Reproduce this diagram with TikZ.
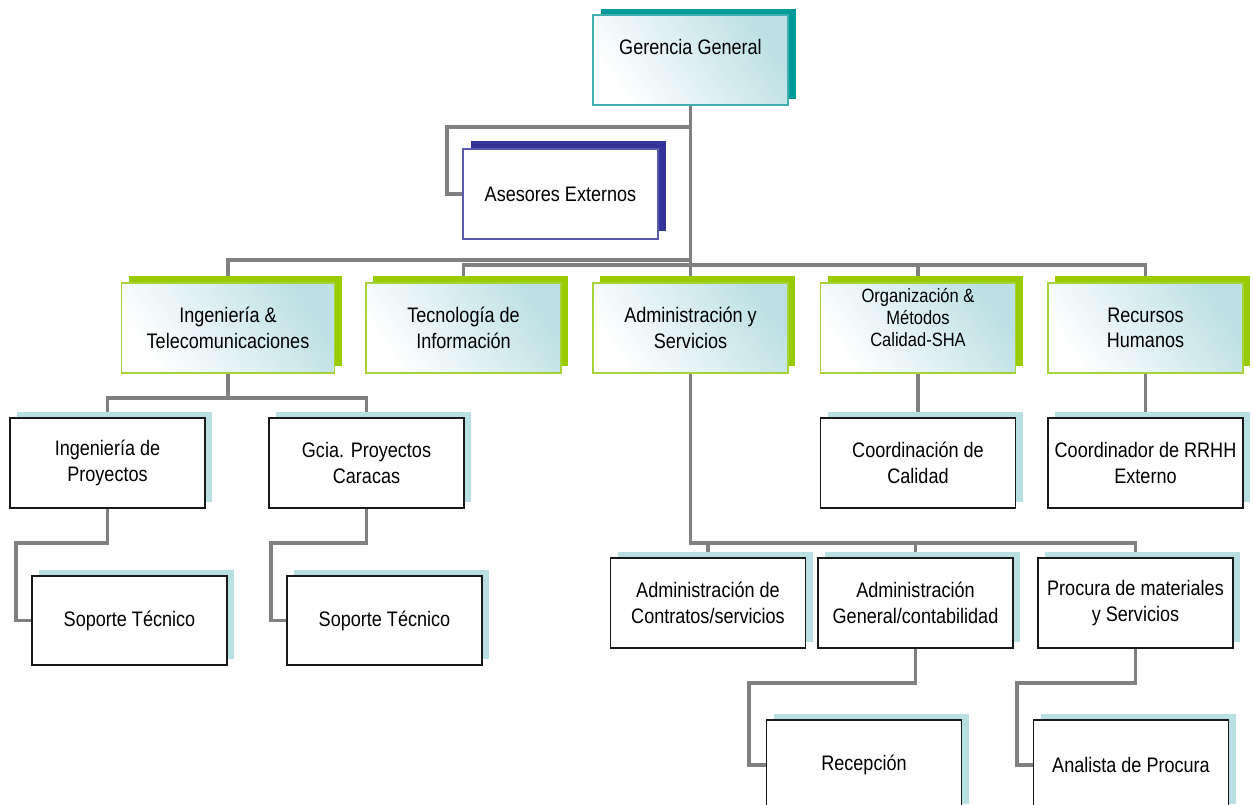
\documentclass[tikz,border=0pt]{standalone}
\usepackage{fontspec}
\setmainfont{Liberation Sans}[FakeStretch=0.86]
\usetikzlibrary{shadows,backgrounds}

\definecolor{wirecol}{HTML}{808080}
\definecolor{tealdark}{HTML}{009999}
\definecolor{tealedge}{HTML}{40AFAF}
\definecolor{navy}{HTML}{333399}
\definecolor{navyedge}{HTML}{5A5AAA}
\definecolor{lime}{HTML}{99CC00}
\definecolor{limeedge}{HTML}{A6D23A}
\definecolor{ice}{HTML}{B8DFE2}
\definecolor{glow}{HTML}{BCE0E4}

\tikzset{
  unit/.style={draw, inner sep=2pt, align=center, minimum width=195pt,
    minimum height=90pt, text=black, font=\fontsize{21}{25.5}\selectfont},
  glowfill/.style={top color=glow, bottom color=white, shading angle=-55},
  headbox/.style={unit, draw=tealedge, line width=1.5pt, glowfill,
    general shadow={fill=tealdark, draw=none, shadow xshift=8pt, shadow yshift=6pt}},
  advbox/.style={unit, draw=navyedge, line width=1.5pt, fill=white,
    general shadow={fill=navy, draw=none, shadow xshift=8pt, shadow yshift=8pt}},
  deptbox/.style={unit, draw=limeedge, line width=1.5pt, glowfill,
    general shadow={fill=lime, draw=none, shadow xshift=7pt, shadow yshift=7pt}},
  unitbox/.style={unit, draw=black!90, line width=1.8pt, fill=white,
    general shadow={fill=ice, draw=none, shadow xshift=7pt, shadow yshift=6pt}},
  wire/.style={draw=wirecol, line width=3.5pt, line join=miter}
}

\begin{document}
\begin{tikzpicture}[x=1pt,y=-1pt]
\useasboundingbox (0,0) rectangle (1253,805);
\clip (0,0) rectangle (1253,805);

% management
\node[headbox] (gg) at (690.5,60) {\raisebox{13pt}[\height][\depth]{Gerencia General}};
\node[advbox] (as) at (560.5,194) {Asesores Externos};

% departments
\node[deptbox, minimum width=213pt] (it) at (228,328) {Ingeniería \&\\Telecomunicaciones};
\node[deptbox] (ti) at (463.5,328) {Tecnología de\\Información};
\node[deptbox] (ad) at (690.5,328) {Administración y\\Servicios};
\node[deptbox, font=\fontsize{19.2}{22}\selectfont] (om) at (918,328)
  {\raisebox{8pt}[\height][\depth]{\begin{tabular}{@{}c@{}}Organización \&\\Métodos\\Calidad-SHA\end{tabular}}};
\node[deptbox] (rh) at (1145.5,328) {Recursos\\Humanos};

% units
\node[unitbox] (ip) at (107.5,463) {Ingeniería de\\Proyectos};
\node[unitbox] (gc) at (366.5,463) {Gcia. Proyectos\\Caracas};
\node[unitbox] (cc) at (918,463) {Coordinación de\\Calidad};
\node[unitbox] (cr) at (1145.5,463) {Coordinador de RRHH\\Externo};

\node[unitbox, minimum height=89pt] (st1) at (129.5,620.5) {Soporte Técnico};
\node[unitbox, minimum height=89pt] (st2) at (384.5,620.5) {Soporte Técnico};

\node[unitbox] (ac) at (708,603) {Administración de\\Contratos/servicios};
\node[unitbox] (ag) at (915.5,603) {Administración\\General/contabilidad};
\node[unitbox] (pm) at (1135.5,603) {Procura de materiales\\y Servicios};

\node[unitbox] (rc) at (864,765) {Recepción};
\node[unitbox] (ap) at (1131,765) {Analista de Procura};

% reporting lines
\begin{scope}[on background layer]
  \coordinate (busA) at (0,260);
  \coordinate (busB) at (0,265);
  \coordinate (busC) at (0,398);
  \coordinate (busD) at (0,543);
  \coordinate (bend) at (447,127);
  \coordinate (k1) at (16,543);
  \coordinate (k2) at (271,543);
  \coordinate (k3) at (749,683);
  \coordinate (k4) at (1017,683);

  \draw[wire] (gg.south) |- (bend) |- (as.west);
  \draw[wire] (gg.south) |- (it.north |- busA) -- (it.north);
  \draw[wire] (gg.south) |- (ti.north |- busB) -- (ti.north);
  \draw[wire] (gg.south) -- (ad.north);
  \draw[wire] (gg.south) |- (om.north |- busB) -- (om.north);
  \draw[wire] (gg.south) |- (rh.north |- busB) -- (rh.north);

  \draw[wire] (it.south) |- (ip.north |- busC) -- (ip.north);
  \draw[wire] (it.south) |- (gc.north |- busC) -- (gc.north);
  \draw[wire] (om.south) -- (cc.north);
  \draw[wire] (rh.south) -- (cr.north);

  \draw[wire] (ip.south) |- (k1) |- (st1.west);
  \draw[wire] (gc.south) |- (k2) |- (st2.west);

  \draw[wire] (ad.south) |- (ac.north |- busD) -- (ac.north);
  \draw[wire] (ad.south) |- (ag.north |- busD) -- (ag.north);
  \draw[wire] (ad.south) |- (pm.north |- busD) -- (pm.north);

  \draw[wire] (ag.south) |- (k3) |- (rc.west);
  \draw[wire] (pm.south) |- (k4) |- (ap.west);
\end{scope}
\end{tikzpicture}
\end{document}
